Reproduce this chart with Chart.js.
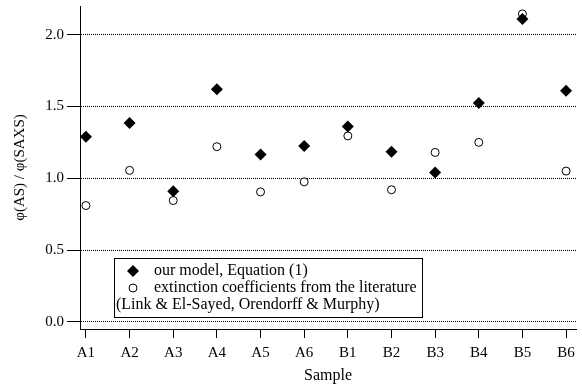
<!DOCTYPE html>
<html>
<head>
<meta charset="utf-8">
<style>
  html, body { margin: 0; padding: 0; background: #fff; }
  #wrap { width: 582px; height: 385px; }
</style>
<script src="https://cdn.jsdelivr.net/npm/chart.js@4/dist/chart.umd.min.js"></script>
</head>
<body>
<div id="wrap"><canvas id="canvas1"></canvas></div>
<script>
const canvas = document.getElementById('canvas1');
var ctx = canvas.getContext('2d');

const samples = ['A1', 'A2', 'A3', 'A4', 'A5', 'A6', 'B1', 'B2', 'B3', 'B4', 'B5', 'B6'];
const modelRatio = [1.29, 1.385, 0.91, 1.62, 1.165, 1.225, 1.36, 1.185, 1.04, 1.525, 2.11, 1.61];
const literatureRatio = [0.81, 1.055, 0.845, 1.22, 0.905, 0.975, 1.295, 0.92, 1.18, 1.25, 2.145, 1.05];
const yTicks = [0, 0.5, 1.0, 1.5, 2.0];

const serif = '"Liberation Serif", "Times New Roman", serif';

function toPoints(values) {
  return values.map((v, i) => ({ x: i, y: v }));
}

// boxed legend in the lower left, with a third text line
const legendBox = {
  id: 'legendBox',
  afterDraw(chart) {
    const c = chart.ctx;
    c.save();
    c.strokeStyle = '#000';
    c.lineWidth = 1;
    c.strokeRect(114.5, 258.5, 308, 59);

    c.fillStyle = '#000';
    c.beginPath();
    c.moveTo(133, 265); c.lineTo(139, 271); c.lineTo(133, 277); c.lineTo(127, 271);
    c.closePath();
    c.fill();

    c.beginPath();
    c.arc(133, 288, 4, 0, Math.PI * 2);
    c.stroke();

    c.font = '16px ' + serif;
    c.textBaseline = 'middle';
    c.fillText('our model, Equation (1)', 154, 271);
    c.fillText('extinction coefficients from the literature', 154, 288);
    c.fillText('(Link & El-Sayed, Orendorff & Murphy)', 116, 305);
    c.restore();
  }
};

const data = {
  datasets: [{
    label: 'our model, Equation (1)',
    data: toPoints(modelRatio),
    pointStyle: 'rectRot',
    pointRadius: 6,
    backgroundColor: '#000',
    borderColor: '#000',
    borderWidth: 0,
    showLine: false
  }, {
    label: 'extinction coefficients from the literature',
    data: toPoints(literatureRatio),
    pointStyle: 'circle',
    pointRadius: 4,
    backgroundColor: '#fff',
    borderColor: '#000',
    borderWidth: 1,
    showLine: false
  }]
};

const options = {
  responsive: true,
  maintainAspectRatio: false,
  animation: false,
  layout: { padding: { top: 5, right: 2, left: 0, bottom: 0 } },
  plugins: {
    legend: { display: false },
    tooltip: { enabled: false }
  },
  scales: {
    x: {
      type: 'linear',
      min: -0.136,
      max: 11.227,
      afterBuildTicks: (scale) => {
        scale.ticks = samples.map((s, i) => ({ value: i }));
      },
      afterFit: (scale) => {
        scale.height = 56;
        scale.paddingLeft = 0;
        scale.paddingRight = 0;
      },
      grid: {
        drawOnChartArea: false,
        drawTicks: true,
        tickLength: 9,
        tickColor: '#000',
        tickWidth: 1
      },
      border: { display: true, color: '#000', width: 1 },
      ticks: {
        color: '#000',
        padding: 6,
        maxRotation: 0,
        autoSkip: false,
        font: { family: serif, size: 15 },
        callback: (v) => samples[v]
      },
      title: {
        display: true,
        text: 'Sample',
        color: '#000',
        padding: { top: 0, bottom: 0 },
        font: { family: serif, size: 16 }
      }
    },
    y: {
      min: -0.05,
      max: 2.2,
      afterBuildTicks: (scale) => {
        scale.ticks = yTicks.map(v => ({ value: v }));
      },
      afterFit: (scale) => {
        scale.width = 80;
        scale.paddingTop = 0;
        scale.paddingBottom = 0;
      },
      grid: {
        color: '#000',
        lineWidth: 1,
        tickLength: 13,
        tickColor: '#000',
        tickWidth: 1,
        tickBorderDash: []
      },
      border: { display: true, color: '#000', width: 1, dash: [1, 1] },
      ticks: {
        color: '#000',
        padding: 3,
        font: { family: serif, size: 15 },
        callback: (v) => v.toFixed(1)
      },
      title: {
        display: true,
        text: 'φ(AS) / φ(SAXS)',
        color: '#000',
        padding: { top: 11, bottom: 0 },
        font: { family: serif, size: 15 }
      }
    }
  }
};

const config = {
  type: 'scatter',
  data: data,
  options: options,
  plugins: [legendBox]
};
var myChart = new Chart(ctx, config);
</script>
</body>
</html>
